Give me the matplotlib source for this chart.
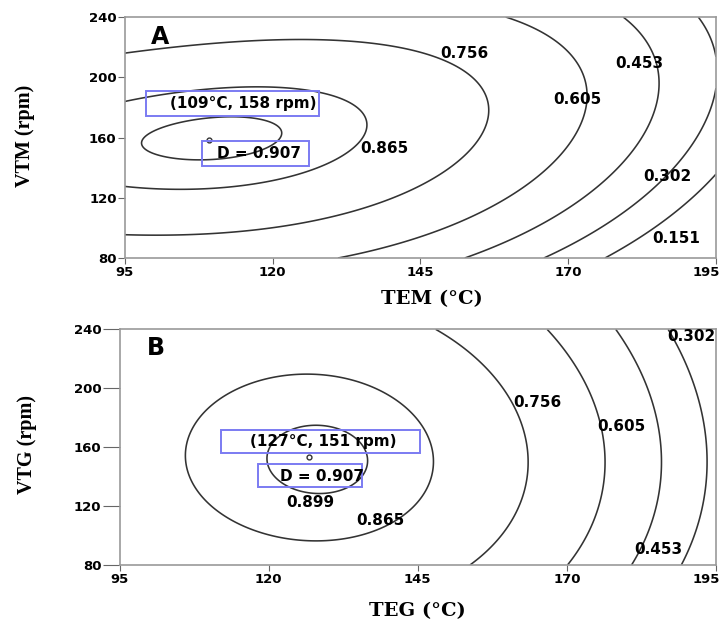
import numpy as np
import matplotlib.pyplot as plt
from matplotlib.patches import Rectangle
from matplotlib.transforms import ScaledTranslation

a_tem = [109.2, 98, 120.4, 109.2, 106.5,
         95, 95, 114.5, 129.7, 135.3, 110.6,
         95, 95, 120.8, 141.5, 158.2, 141.5, 129.7,
         161.8, 168.6, 175.7, 170.3, 152, 132.7,
         180.2, 186.9, 183, 168.6, 154.5,
         189.5, 192.3, 193.7, 193.4, 187, 167.4,
         195, 191.2, 187.5, 175.9,
         95, 95, 195, 195]
a_vtm = [158.3, 156.5, 164.5, 173.5, 144.5,
         183.5, 130, 193, 146.2, 170, 124.4,
         214.4, 95.6, 223.3, 220.3, 177, 125.1, 107.4,
         240, 222.5, 185, 147.2, 114, 80,
         240, 189, 142, 107, 80,
         240, 220, 194, 164.5, 131, 80,
         153.7, 131.3, 118, 80,
         240, 80, 175, 200]
a_d = [0.907, 0.899, 0.899, 0.899, 0.899,
       0.865, 0.865, 0.865, 0.865, 0.865, 0.865,
       0.756, 0.756, 0.756, 0.756, 0.756, 0.756, 0.756,
       0.605, 0.605, 0.605, 0.605, 0.605, 0.605,
       0.453, 0.453, 0.453, 0.453, 0.453,
       0.302, 0.302, 0.302, 0.302, 0.302, 0.302,
       0.151, 0.151, 0.151, 0.151,
       0.64, 0.67, 0.27, 0.28]

b_teg = [127, 119, 135.4, 127.2, 127.2,
         108.9, 146.6, 126.4, 126.4,
         145.3, 160.7, 163.2, 160.4, 153.4,
         168.3, 173.3, 175.8, 176.6, 172.2,
         180.5, 183.3, 185, 184.7, 183.6,
         188.6, 190.5, 191.4, 191.4, 190.9,
         95, 95, 95, 126, 126, 195, 195, 195]
b_vtg = [152, 152.4, 153.5, 176.9, 127,
         152, 151.5, 208.5, 96.3,
         240, 190.7, 148, 107, 80,
         240, 208.8, 173.8, 148, 80,
         240, 208.8, 143, 107, 80,
         240, 200, 150, 107, 80,
         240, 80, 152, 240, 80, 150, 220, 100]
b_d = [0.907, 0.899, 0.899, 0.899, 0.899,
       0.865, 0.865, 0.865, 0.865,
       0.756, 0.756, 0.756, 0.756, 0.756,
       0.605, 0.605, 0.605, 0.605, 0.605,
       0.453, 0.453, 0.453, 0.453, 0.453,
       0.302, 0.302, 0.302, 0.302, 0.302,
       0.775, 0.78, 0.80, 0.80, 0.81, 0.17, 0.18, 0.18]

a_levels = [0.151, 0.302, 0.453, 0.605, 0.756, 0.865, 0.899]
b_levels = [0.302, 0.453, 0.605, 0.756, 0.865, 0.899]

# labelled levels and where they sit
a_lab_levels = [0.756, 0.453, 0.605, 0.302, 0.151, 0.865]
a_lab_pos = [(152.5, 216), (182, 209.3), (171.6, 185.3), (186.8, 134), (188.3, 93), (138.9, 152.8)]
b_lab_levels = [0.302, 0.756, 0.605, 0.453, 0.899, 0.865]
b_lab_pos = [(190.9, 235.4), (165.1, 190.4), (179.1, 173.9), (185.3, 90.2), (127, 122.3), (138.8, 110.5)]

a_opt = (109, 158)
b_opt = (127, 151)
d_opt = 0.907

xticks = [95, 120, 145, 170, 195]
yticks = [80, 120, 160, 200, 240]


def design(t, s):
    u = (np.asarray(t, float) - 145) / 50
    v = (np.asarray(s, float) - 160) / 80
    return np.stack([u**i * v**j for i in range(4) for j in range(4 - i)], axis=-1)


def fit_surface(t, s, d):
    d = np.asarray(d, float)
    w = 1 / (0.92 - d) ** 0.85
    coef = np.linalg.lstsq(design(t, s) * w[:, None], d * w, rcond=None)[0]
    return coef


def draw_panel(ax, t, s, d, levels, lab_levels, lab_pos, opt, letter, box1, box2, txt1, txt2, mk):
    coef = fit_surface(t, s, d)
    gx = np.linspace(95, 195, 401)
    gy = np.linspace(80, 240, 321)
    T, S = np.meshgrid(gx, gy)
    Z = design(T, S) @ coef
    ax.contour(T, S, Z, levels=levels, colors='#333333', linewidths=1.15)

    tf = dict(family='DejaVu Sans', weight='bold', fontsize=11, ha='center', va='center')
    for lv, (px, py) in zip(lab_levels, lab_pos):
        ax.text(px, py, '%.3f' % lv, **tf)

    ax.text(101, 227, letter, family='DejaVu Sans', weight='bold', fontsize=17, ha='center', va='center')

    for (x0, y0, w, h) in (box1, box2):
        ax.add_patch(Rectangle((x0, y0), w, h, fill=False, ec='#7b7bf2', lw=1.4, zorder=3))
    ax.text(txt1[0], txt1[1], '(%d°C, %d rpm)' % opt, **tf)
    ax.text(txt2[0], txt2[1], 'D = %.3f' % d_opt, **tf)
    ax.plot(mk[0], mk[1], 'o', ms=3.5, mfc='white', mec='#333333', mew=1)

    ax.set_xlim(95, 195)
    ax.set_ylim(80, 240)
    ax.set_xticks(xticks)
    ax.set_yticks(yticks)
    for lab in ax.get_xticklabels() + ax.get_yticklabels():
        lab.set_family('DejaVu Sans')
        lab.set_weight('bold')
        lab.set_fontsize(9.5)
    for sp in ax.spines.values():
        sp.set_color('#9a9a9a')
        sp.set_linewidth(1.2)


fig = plt.figure(figsize=(7.27, 6.21), dpi=100)
axA = fig.add_axes([0.1719, 0.5845, 0.8129, 0.3881])
axB = fig.add_axes([0.1645, 0.0902, 0.8204, 0.3795])

draw_panel(axA, a_tem, a_vtm, a_d, a_levels, a_lab_levels, a_lab_pos, a_opt, 'A',
           (98.6, 174.2, 29.2, 16.6), (108, 141, 18.2, 16.7), (115, 182.5), (117.7, 149.2), (109.2, 158.3))
draw_panel(axB, b_teg, b_vtg, b_d, b_levels, b_lab_levels, b_lab_pos, b_opt, 'B',
           (112, 156.2, 33.3, 15.4), (118.2, 133.2, 17.5, 15.4), (129.1, 163.5), (128.9, 140), (126.8, 153.1))

axA.tick_params(axis='y', length=5, direction='out', color='#666666', pad=1)
axA.tick_params(axis='x', length=4, direction='out', color='#666666', pad=2)
axB.tick_params(axis='y', length=12, direction='out', color='#666666', pad=1)
axB.tick_params(axis='x', length=4, direction='out', color='#666666', pad=2)

# keep the last x tick label inside the figure
for ax in (axA, axB):
    last = ax.get_xticklabels()[-1]
    last.set_transform(last.get_transform() + ScaledTranslation(-7 / 72, 0, fig.dpi_scale_trans))

axA.set_xlabel('TEM (°C)', family='DejaVu Serif', weight='bold', fontsize=14)
axA.set_ylabel('VTM (rpm)', family='Liberation Serif', weight='bold', fontsize=14.5)
axB.set_xlabel('TEG (°C)', family='DejaVu Serif', weight='bold', fontsize=14)
axB.set_ylabel('VTG (rpm)', family='Liberation Serif', weight='bold', fontsize=14.5)

axA.xaxis.set_label_coords(0.519, -0.17)
axA.yaxis.set_label_coords(-0.17, 0.506)
axB.xaxis.set_label_coords(0.499, -0.195)
axB.yaxis.set_label_coords(-0.156, 0.513)
for ax in (axA, axB):
    ax.xaxis.label.set_va('center')
    ax.yaxis.label.set_va('center')

fig.savefig('out.png', dpi=100)
